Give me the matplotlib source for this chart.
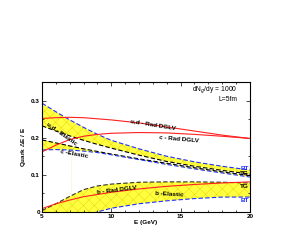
import numpy as np
import matplotlib
matplotlib.use("Agg")
import matplotlib.pyplot as plt
from matplotlib.ticker import MultipleLocator

E = [5, 6, 7, 8, 9, 10, 12, 14, 16, 18, 20]
ud_rad = [0.252, 0.254, 0.255, 0.254, 0.251, 0.248, 0.240, 0.229, 0.218, 0.207, 0.198]
c_rad = [0.162, 0.180, 0.195, 0.204, 0.209, 0.212, 0.214, 0.213, 0.209, 0.204, 0.198]
b_rad = [0.009, 0.022, 0.032, 0.041, 0.047, 0.053, 0.062, 0.069, 0.074, 0.078, 0.081]
ud_el_bt = [0.293, 0.270, 0.248, 0.228, 0.209, 0.193, 0.170, 0.150, 0.135, 0.123, 0.113]
ud_el_tg = [0.232, 0.218, 0.205, 0.193, 0.182, 0.172, 0.153, 0.136, 0.123, 0.112, 0.102]
c_el_tg = [0.194, 0.186, 0.178, 0.170, 0.163, 0.156, 0.143, 0.131, 0.119, 0.108, 0.098]
c_el_bt = [0.167, 0.168, 0.167, 0.164, 0.160, 0.154, 0.141, 0.128, 0.116, 0.105, 0.094]
b_el_tg = [0.004, 0.022, 0.042, 0.060, 0.070, 0.075, 0.080, 0.081, 0.081, 0.080, 0.078]
b_el_bt = [-0.045, -0.033, -0.022, -0.011, 0.000, 0.010, 0.022, 0.030, 0.036, 0.040, 0.040]

plt.rcParams['font.family'] = ['Liberation Sans', 'DejaVu Sans']
plt.rcParams['hatch.color'] = '#e8d000'
plt.rcParams['hatch.linewidth'] = 0.25

fig = plt.figure(figsize=(2.84, 2.40), dpi=100)
ax = fig.add_axes([0.148, 0.117, 0.732, 0.541])

fs = 4.6
yel = '#ffff40'
for lo, hi in [(ud_el_tg, ud_el_bt), (c_el_bt, c_el_tg), (b_el_bt, b_el_tg)]:
    ax.fill_between(E, lo, hi, facecolor=yel, edgecolor='#e0c800', hatch='xxx', linewidth=0)

ax.plot([7.1, 7.1], [0, 0.16], color='#e8e060', lw=0.4, ls=':')

dash = (0, (4, 2))
ax.plot(E, ud_el_bt, color='#2030ff', lw=0.8, ls=dash)
ax.plot(E, ud_el_tg, color='black', lw=0.8, ls=dash)
ax.plot(E, c_el_tg, color='black', lw=0.8, ls=dash)
ax.plot(E, c_el_bt, color='#2030ff', lw=0.8, ls=dash)
ax.plot(E, b_el_tg, color='#303030', lw=0.8, ls=dash)
ax.plot(E, b_el_bt, color='#2030ff', lw=0.8, ls=dash)
ax.plot(E, ud_rad, color='#ff2020', lw=0.8)
ax.plot(E, c_rad, color='#ff2020', lw=0.8)
ax.plot(E, b_rad, color='#ff2020', lw=0.8)

ax.set_xlim(5, 20)
ax.set_ylim(0, 0.35)
ax.xaxis.set_minor_locator(MultipleLocator(1))
ax.yaxis.set_minor_locator(MultipleLocator(0.05))
ax.set_xticks([5, 10, 15, 20])
ax.set_xticklabels(['5', '10', '15', '20'])
ax.set_yticks([0, 0.1, 0.2, 0.3])
ax.set_yticklabels(['0', '0.1', '0.2', '0.3'])
ax.tick_params(which='both', direction='in', top=True, right=True, labelsize=fs, pad=1.5, width=0.5)
ax.tick_params(which='major', length=3)
ax.tick_params(which='minor', length=1.5)
for lab in ax.get_xticklabels() + ax.get_yticklabels():
    lab.set_fontweight('bold')
for s in ax.spines.values():
    s.set_linewidth(0.8)

ax.set_xlabel('E (GeV)', fontsize=fs, fontweight='bold', labelpad=1)
ax.set_ylabel('Quark $\\Delta$E / E', fontsize=fs, fontweight='bold', labelpad=2)

tk = dict(fontsize=fs, fontweight='bold', ha='center', va='center')
ax.text(13.0, 0.236, 'u,d - Rad DGLV', rotation=-9, **tk)
ax.text(14.9, 0.197, 'c - Rad DGLV', rotation=-5, **tk)
ax.text(6.45, 0.212, 'u,d - Elastic', rotation=-35, **tk)
ax.text(7.3, 0.155, 'c -Elastic', rotation=-10, **tk)
ax.text(10.4, 0.060, 'b - Rad DGLV', rotation=7, **tk)
ax.text(14.2, 0.048, 'b -Elastic', rotation=-3, **tk)

ax.text(19.1, 0.329, 'dN$_g$/dy = 1000', fontsize=fs + 0.3, ha='right', va='center')
ax.text(19.1, 0.304, 'L=5fm', fontsize=fs + 0.3, ha='right', va='center')

rk = dict(fontsize=fs, fontweight='bold', ha='center', va='center')
ax.text(19.6, 0.118, 'BT', color='#2030ff', **rk)
ax.text(19.6, 0.103, 'TG', color='black', **rk)
ax.text(19.6, 0.068, 'TG', color='black', **rk)
ax.text(19.6, 0.032, 'BT', color='#2030ff', **rk)

fig.savefig('out.png', dpi=100)
